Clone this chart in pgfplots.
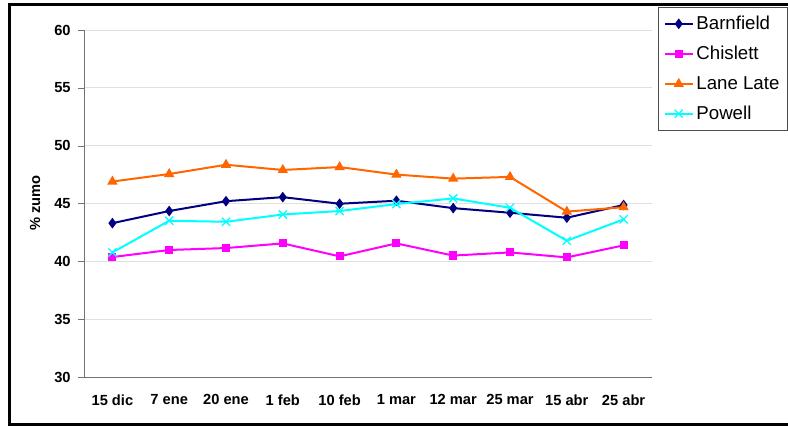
\documentclass[border=0pt]{standalone}
\usepackage{fontspec}
\setmainfont{Liberation Sans}
\usepackage{pgfplots}
\pgfplotsset{compat=1.18}
\definecolor{barn}{HTML}{000080}
\definecolor{chis}{HTML}{FF00FF}
\definecolor{lane}{HTML}{FF6600}
\definecolor{powe}{HTML}{00FFFF}
\begin{document}
\begin{tikzpicture}
\useasboundingbox (0,0) rectangle (591pt,319.5pt);
% chart frame (right side runs off the picture)
\draw[line width=2.4pt] (600pt,316.1pt) -- (7.1pt,316.1pt) -- (7.1pt,1.1pt) -- (600pt,1.1pt);
\begin{axis}[
  at={(63pt,36.75pt)}, anchor=south west,
  scale only axis, width=426pt, height=260.25pt,
  xmin=-0.5, xmax=9.5, ymin=30, ymax=60,
  ytick={30,35,...,60},
  xtick={0,...,9},
  xticklabels={15 dic,7 ene,20 ene,1 feb,10 feb,1 mar,12 mar,25 mar,15 abr,25 abr},
  x tick style={draw=none},
  extra x ticks={-0.5,0.5,...,9.5},
  extra x tick labels={},
  extra x tick style={tick style={draw=black!55}, major tick length=5pt, grid=none},
  tick align=outside, major tick length=4.5pt,
  y tick style={draw=black!55},
  axis x line*=bottom, axis y line*=left,
  axis line style={draw=black!55, -},
  ymajorgrids, grid style={draw=black!12, line width=0.6pt},
  /pgf/number format/assume math mode=true,
  ticklabel style={font=\fontsize{11}{13}\selectfont\bfseries},
  xticklabel style={yshift=-5pt},
  yticklabel style={xshift=-2pt},
  ylabel={\% zumo},
  ylabel style={font=\fontsize{11}{13}\selectfont\bfseries, at={(axis description cs:-0.0863,0.501)}, anchor=center, rotate=0},
  legend style={at={(axis description cs:1.0106,1.0663)}, anchor=north west,
    draw=black!70, line width=0.6pt, font=\fontsize{14}{16}\selectfont,
    row sep=7pt, inner xsep=4pt, inner ysep=4.5pt},
  legend cell align=left,
  legend image code/.code={\draw[mark repeat=2,mark phase=2] plot coordinates {(0pt,0pt)(10.5pt,0pt)(21pt,0pt)};},
  every axis plot/.append style={line width=1.5pt},
]
\addplot[barn, mark=diamond*, mark size=2.8pt] coordinates {
(0,43.3) (1,44.35) (2,45.2) (3,45.55) (4,44.98) (5,45.24) (6,44.6) (7,44.2) (8,43.77) (9,44.87)};
\addlegendentry{Barnfield}
\addplot[chis, mark=square*, mark size=2.3pt] coordinates {
(0,40.37) (1,40.98) (2,41.15) (3,41.55) (4,40.43) (5,41.55) (6,40.5) (7,40.77) (8,40.34) (9,41.38)};
\addlegendentry{Chislett}
\addplot[lane, mark=triangle*, mark size=3pt] coordinates {
(0,46.9) (1,47.55) (2,48.35) (3,47.9) (4,48.15) (5,47.5) (6,47.15) (7,47.3) (8,44.3) (9,44.68)};
\addlegendentry{Lane Late}
\addplot[powe, mark=x, mark size=4.3pt, mark options={line width=1pt}] coordinates {
(0,40.77) (1,43.51) (2,43.42) (3,44.05) (4,44.35) (5,44.95) (6,45.44) (7,44.63) (8,41.78) (9,43.63)};
\addlegendentry{Powell}
\end{axis}
\end{tikzpicture}
\end{document}
